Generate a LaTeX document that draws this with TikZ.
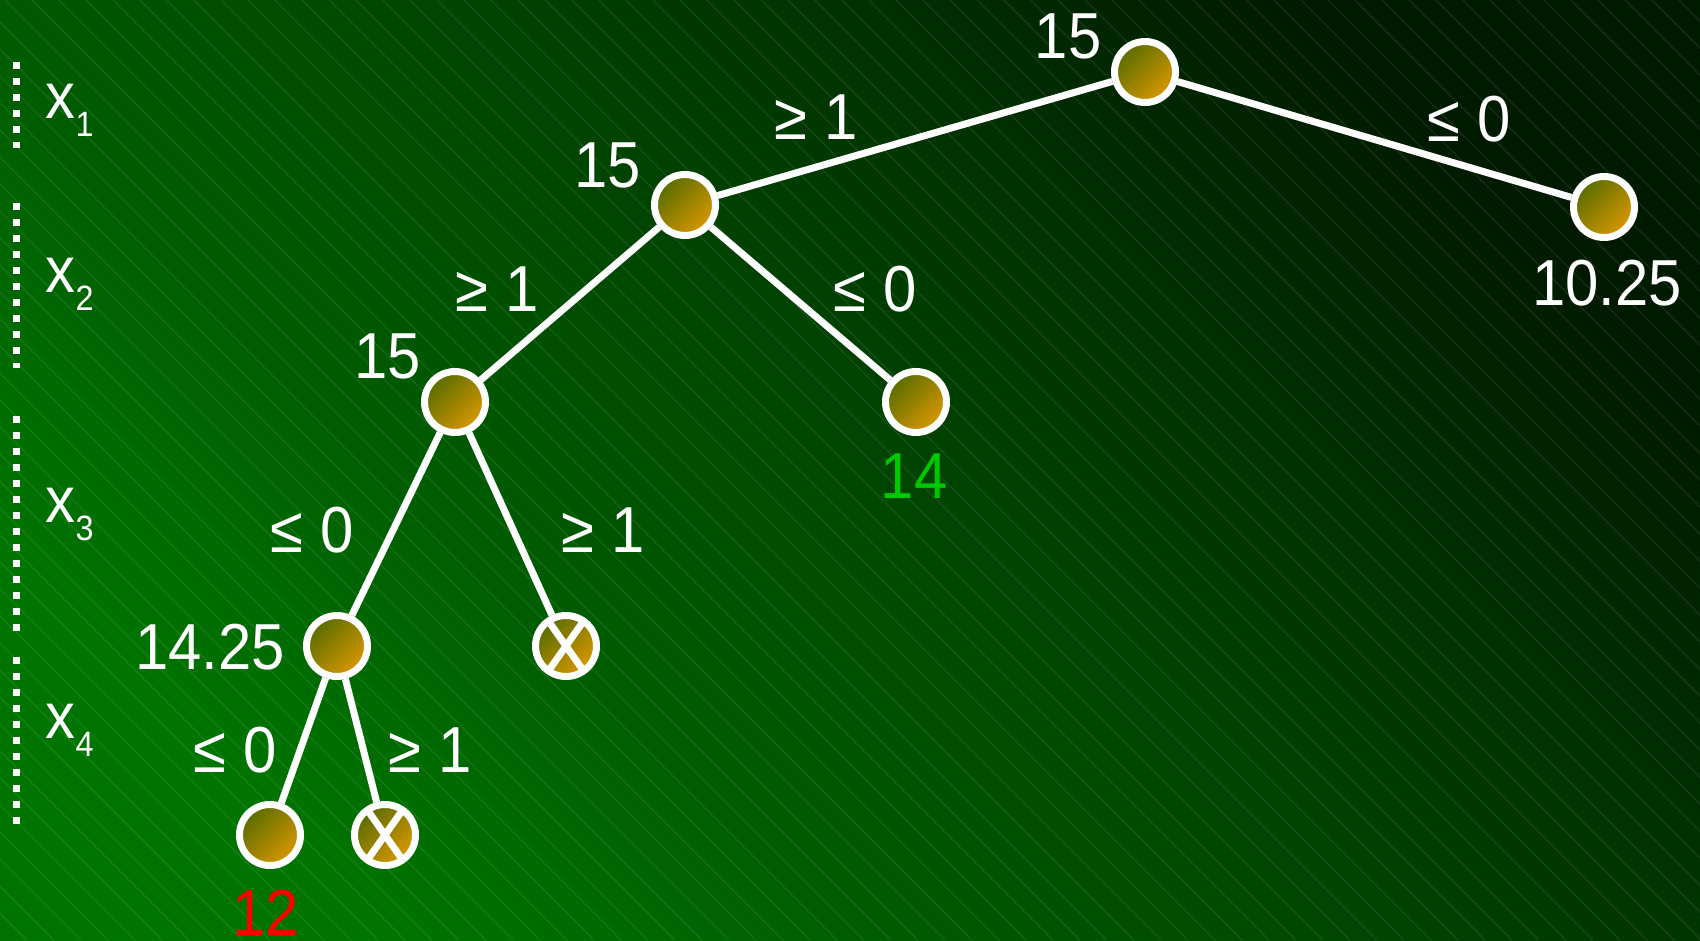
\documentclass[tikz,border=0pt]{standalone}
\usepackage{fontspec}
\setmainfont{Liberation Sans}[FakeStretch=0.92]
\usepackage{tikz}
\usetikzlibrary{
  arrows.meta,              % 箭头样式
  calc                      % 坐标计算
}

% 颜色
\definecolor{bgbright}{RGB}{0,116,0}
\definecolor{bgdark}{RGB}{0,26,0}
\definecolor{nodeolive}{RGB}{88,108,0}
\definecolor{nodeorange}{RGB}{218,152,0}
\definecolor{goodgreen}{RGB}{0,200,0}

% 变量标签 x_i
\newcommand{\xvar}[1]{x\raisebox{-0.28em}{\fontsize{10}{10}\selectfont #1}}

\begin{document}
\begin{tikzpicture}[x=1cm, y=1cm,
  bnode/.style={circle, draw=white, line width=0.07cm, minimum size=0.61cm,
    inner sep=0pt, top color=nodeolive, bottom color=nodeorange, shading angle=45},
  cutnode/.style={bnode, path picture={
    \draw[white, line width=0.07cm, shift={(path picture bounding box.center)}]
      (-0.19,0.27) -- (0.19,-0.27) (-0.19,-0.27) -- (0.19,0.27);}},
  branch/.style={white, line width=0.07cm},
  lbl/.style={text=white, font=\fontsize{18.5}{20}\selectfont, inner sep=0pt},
  levelmark/.style={white, line width=0.07cm, dash pattern=on 0.07cm off 0.09cm},
  bgline/.style={white, opacity=0.08, line width=0.4pt}
]
  \useasboundingbox (0,0) rectangle (17,9.4);

  % ===== 背景 =====
  \shade[bottom color=bgbright, top color=bgdark, shading angle=-45] (0,0) rectangle (17,9.4);
  \begin{scope}
    \clip (0,0) rectangle (17,9.4);
    \foreach \s in {-9.4,-9.13,...,17}
      \draw[bgline] (\s,9.4) -- ++(9.4,-9.4);
  \end{scope}

  % ===== 左侧变量层次 =====
  \draw[levelmark] (0.16,8.78) -- (0.16,7.92);
  \draw[levelmark] (0.16,7.37) -- (0.16,5.72);
  \draw[levelmark] (0.16,5.24) -- (0.16,3.00);
  \draw[levelmark] (0.16,2.83) -- (0.16,1.08);
  \node[lbl, anchor=base west] (lx1) at (0.45,8.22) {\xvar{1}};
  \node[lbl, anchor=base west] (lx2) at (0.45,6.48) {\xvar{2}};
  \node[lbl, anchor=base west] (lx3) at (0.45,4.18) {\xvar{3}};
  \node[lbl, anchor=base west] (lx4) at (0.45,2.02) {\xvar{4}};

  % ===== 树的节点 =====
  \node[bnode] (root) at (11.45,8.68) {};
  \node[bnode] (nR)   at (16.04,7.33) {};
  \node[bnode] (nA)   at (6.85,7.35) {};
  \node[bnode] (nAR)  at (9.16,5.38) {};
  \node[bnode] (nB)   at (4.55,5.38) {};
  \node[bnode] (nC)   at (3.37,2.94) {};
  \node[cutnode] (xB) at (5.66,2.94) {};
  \node[bnode] (nD)   at (2.70,1.05) {};
  \node[cutnode] (xC) at (3.85,1.05) {};

  % ===== 分支 =====
  \draw[branch] (root) -- (nA);
  \draw[branch] (root) -- (nR);
  \draw[branch] (nA) -- (nB);
  \draw[branch] (nA) -- (nAR);
  \draw[branch] (nB) -- (nC);
  \draw[branch] (nB) -- (xB);
  \draw[branch] (nC) -- (nD);
  \draw[branch] (nC) -- (xC);

  % ===== 界值 =====
  \node[lbl] (broot) at (10.68,9.04) {15};
  \node[lbl] (bA)    at (6.08,7.75) {15};
  \node[lbl] (bR)    at (16.07,6.57) {10.25};
  \node[lbl] (bB)    at (3.88,5.84) {15};
  \node[lbl, text=goodgreen] (bAR) at (9.14,4.64) {14};
  \node[lbl] (bC)    at (2.10,2.93) {14.25};
  \node[lbl, text=red] (bD) at (2.66,0.27) {12};

  % ===== 分支条件 =====
  \node[lbl] (c1) at (8.16,8.23) {≥ 1};
  \node[lbl] (c2) at (14.69,8.21) {≤ 0};
  \node[lbl] (c3) at (4.97,6.51) {≥ 1};
  \node[lbl] (c4) at (8.75,6.51) {≤ 0};
  \node[lbl] (c5) at (3.12,4.10) {≤ 0};
  \node[lbl] (c6) at (6.03,4.10) {≥ 1};
  \node[lbl] (c7) at (2.35,1.90) {≤ 0};
  \node[lbl] (c8) at (4.30,1.90) {≥ 1};
\end{tikzpicture}
\end{document}
